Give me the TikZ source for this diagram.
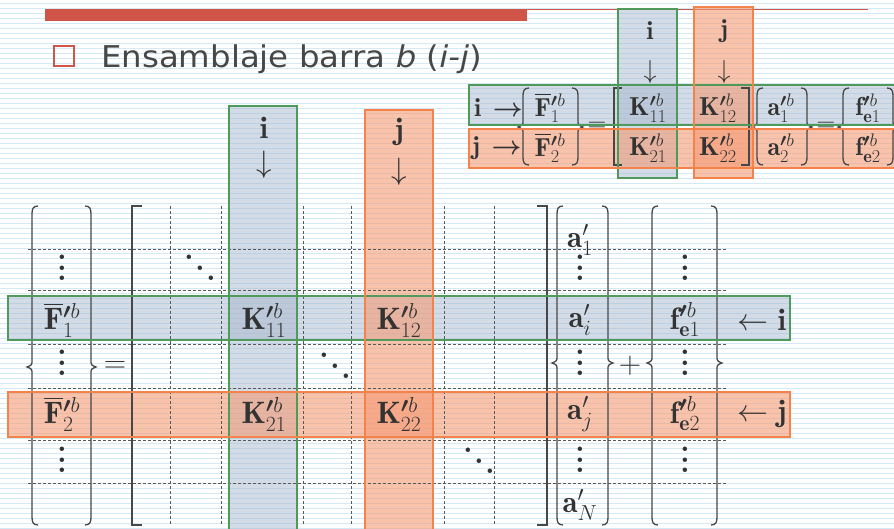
\RequirePackage{fix-cm}
\documentclass[tikz,border=0pt]{standalone}
\usepackage{amsmath,amssymb,bm}
\usepackage{fontspec}
\newfontfamily\titlefont[FakeStretch=1.08]{DejaVu Sans}
\definecolor{slidered}{HTML}{D05548}
\definecolor{rulings}{HTML}{D3EAF6}
\definecolor{igreen}{HTML}{4F9A5B}
\definecolor{igfill}{HTML}{A9B8CE}
\definecolor{jorange}{HTML}{F3834A}
\definecolor{jofill}{HTML}{F59A74}
\definecolor{ink}{HTML}{333333}
\tikzset{gband/.style={fill=igfill,fill opacity=0.5},
  oband/.style={fill=jofill,fill opacity=0.6},
  gedge/.style={draw=igreen,line width=2.6pt},
  oedge/.style={draw=jorange,line width=2.6pt},
  gridline/.style={dash pattern=on 3pt off 2pt,gray!70!black,line width=0.9pt},
  delim/.style={ink!90,line width=1.3pt},
  mth/.style={text=ink,font=\fontsize{31}{33}\selectfont,inner sep=0pt},
  smth/.style={text=ink,font=\fontsize{26}{28}\selectfont,inner sep=0pt}}
% curly vector delimiters: x, top, notch, bottom
\newcommand{\vecl}[4]{\draw[delim] (#1+6,#2) .. controls (#1+1,#2) and (#1,#2+3) .. (#1,#2+8)
  -- (#1,#3-7) .. controls (#1,#3-2) .. (#1-5,#3) .. controls (#1,#3+2) .. (#1,#3+7)
  -- (#1,#4-8) .. controls (#1,#4-3) and (#1+1,#4) .. (#1+6,#4);}
\newcommand{\vecr}[4]{\draw[delim] (#1-6,#2) .. controls (#1-1,#2) and (#1,#2+3) .. (#1,#2+8)
  -- (#1,#3-7) .. controls (#1,#3-2) .. (#1+5,#3) .. controls (#1,#3+2) .. (#1,#3+7)
  -- (#1,#4-8) .. controls (#1,#4-3) and (#1-1,#4) .. (#1-6,#4);}
% dots scaled with the font
\newcommand{\vdts}{\vbox{\bfseries\baselineskip=0.34em\lineskiplimit=-20pt\hbox{.}\hbox{.}\hbox{.}}}
\newcommand{\ddts}{\hbox{\bfseries\raise0.68em\hbox{.}\kern0.04em\raise0.34em\hbox{.}\kern0.04em\hbox{.}}}

\begin{document}
\begin{tikzpicture}[x=1pt,y=-1pt]
\clip (0,0) rectangle (894,529);
\fill[white] (0,0) rectangle (894,529);
\foreach \y in {3,8,...,528}{\draw[rulings,line width=0.8pt] (0,\y) -- (894,\y);}
% title
\fill[slidered] (45,9) rectangle (527,21);
\draw[slidered,line width=0.8pt] (527,9.4) -- (868,9.4);
\draw[slidered,line width=2.6pt] (54,46) rectangle (74,66);
\node[anchor=base west,text=ink!90,font=\titlefont\fontsize{30}{32}\selectfont,inner sep=0pt] (title) at (101,68) {Ensamblaje barra \textit{b} (\textit{i-j})};

% highlight bands (fill)
\foreach \p/\q in {{229,106}/{297,540},{8,296}/{790,340},{618,9}/{677,178},{469,85}/{905,125}}{\fill[gband] (\p) rectangle (\q);}
\foreach \p/\q in {{365,110}/{433,540},{8,392}/{790,437},{694,7}/{753,178},{469,129}/{905,168}}{\fill[oband] (\p) rectangle (\q);}

% small element equation
\vecl{523}{88}{127}{165} \vecr{578}{88}{127}{165}
\draw[delim] (622,88) -- (614,88) -- (614,165) -- (622,165);
\draw[delim] (741,88) -- (749,88) -- (749,165) -- (741,165);
\vecl{757}{88}{127}{165} \vecr{807}{88}{127}{165}
\vecl{843}{88}{127}{165} \vecr{893}{88}{127}{165}
\node[smth,anchor=west] (ri) at (474,108) {$\mathbf{i}\,\boldsymbol{\rightarrow}$};
\node[smth,anchor=west] (rj) at (472,148) {$\mathbf{j}\,\boldsymbol{\rightarrow}$};
\node[smth] (sF1) at (550,108) {$\overline{\mathbf{F}}{}^{\boldsymbol{\prime}b}_{1}$};
\node[smth] (sF2) at (550,148) {$\overline{\mathbf{F}}{}^{\boldsymbol{\prime}b}_{2}$};
\node[smth] (seq1) at (597,127) {$=$};
\node[smth] (sK11) at (648,108) {$\mathbf{K}^{\boldsymbol{\prime}b}_{11}$};
\node[smth] (sK12) at (718,108) {$\mathbf{K}^{\boldsymbol{\prime}b}_{12}$};
\node[smth] (sK21) at (648,148) {$\mathbf{K}^{\boldsymbol{\prime}b}_{21}$};
\node[smth] (sK22) at (718,148) {$\mathbf{K}^{\boldsymbol{\prime}b}_{22}$};
\node[smth] (sa1) at (781,108) {$\mathbf{a}^{\boldsymbol{\prime}b}_{1}$};
\node[smth] (sa2) at (781,148) {$\mathbf{a}^{\boldsymbol{\prime}b}_{2}$};
\node[smth] (seq2) at (826,127) {$=$};
\node[smth] (sf1) at (868,108) {$\mathbf{f}^{\boldsymbol{\prime}b}_{\mathbf{e}1}$};
\node[smth] (sf2) at (868,148) {$\mathbf{f}^{\boldsymbol{\prime}b}_{\mathbf{e}2}$};
\node[smth] (sci) at (650,31) {$\mathbf{i}$};
\node[smth] (scia) at (650,72) {$\downarrow$};
\node[smth] (scj) at (724,31) {$\mathbf{j}$};
\node[smth] (scja) at (724,72) {$\downarrow$};

% global system: dashed partition
\foreach \x in {170,221,303,351,444,494}{\draw[gridline] (\x,206) -- (\x,525);}
\foreach \y in {249,290,344,388,440,483}{\draw[gridline] (28,\y) -- (727,\y);}
\vecl{32}{206}{367}{525} \vecr{91}{206}{367}{525}
\draw[delim] (142,206) -- (132,206) -- (132,525) -- (142,525);
\draw[delim] (537,206) -- (547,206) -- (547,525) -- (537,525);
\vecl{557}{206}{363}{525} \vecr{608}{206}{363}{525}
\vecl{652}{206}{363}{525} \vecr{717}{206}{363}{525}

\node[mth] (Fd1) at (62,268) {\vdts};
\node[mth] (F1) at (62,320) {$\overline{\mathbf{F}}{}^{\boldsymbol{\prime}b}_{1}$};
\node[mth] (Fd2) at (62,363) {\vdts};
\node[mth] (F2) at (62,414) {$\overline{\mathbf{F}}{}^{\boldsymbol{\prime}b}_{2}$};
\node[mth] (Fd3) at (62,460) {\vdts};
\node[mth] (eq) at (115,367) {$=$};
\node[mth] (Kd1) at (200,268) {\ddts};
\node[mth] (K11) at (264,320) {$\mathbf{K}^{\boldsymbol{\prime}b}_{11}$};
\node[mth] (K12) at (399,320) {$\mathbf{K}^{\boldsymbol{\prime}b}_{12}$};
\node[mth] (Kd2) at (335,366) {\ddts};
\node[mth] (K21) at (264,414) {$\mathbf{K}^{\boldsymbol{\prime}b}_{21}$};
\node[mth] (K22) at (399,414) {$\mathbf{K}^{\boldsymbol{\prime}b}_{22}$};
\node[mth] (Kd3) at (479,461) {\ddts};
\node[mth] (a1) at (580,240) {$\mathbf{a}'_{1}$};
\node[mth] (ad1) at (580,268) {\vdts};
\node[mth] (ai) at (580,320) {$\mathbf{a}'_{i}$};
\node[mth] (ad2) at (580,363) {\vdts};
\node[mth] (aj) at (580,414) {$\mathbf{a}'_{j}$};
\node[mth] (ad3) at (580,460) {\vdts};
\node[mth] (aN) at (580,505) {$\mathbf{a}'_{N}$};
\node[mth] (plus) at (630,366) {$+$};
\node[mth] (fd1) at (685,268) {\vdts};
\node[mth] (fe1) at (685,320) {$\mathbf{f}^{\boldsymbol{\prime}b}_{\mathbf{e}1}$};
\node[mth] (fd2) at (685,363) {\vdts};
\node[mth] (fe2) at (685,414) {$\mathbf{f}^{\boldsymbol{\prime}b}_{\mathbf{e}2}$};
\node[mth] (fd3) at (685,460) {\vdts};
\node[mth] (li) at (762,320) {$\leftarrow\mathbf{i}$};
\node[mth] (lj) at (762,414) {$\leftarrow\mathbf{j}$};
\node[mth] (ci) at (264,128) {$\mathbf{i}$};
\node[mth] (cia) at (264,165) {$\downarrow$};
\node[mth] (cj) at (399,132) {$\mathbf{j}$};
\node[mth] (cja) at (399,172) {$\downarrow$};

% highlight bands (edges)
\foreach \p/\q in {{229,106}/{297,540},{8,296}/{790,340},{618,9}/{677,178},{469,85}/{905,125}}{\draw[gedge] (\p) rectangle (\q);}
\foreach \p/\q in {{365,110}/{433,540},{8,392}/{790,437},{694,7}/{753,178},{469,129}/{905,168}}{\draw[oedge] (\p) rectangle (\q);}
\end{tikzpicture}
\end{document}
